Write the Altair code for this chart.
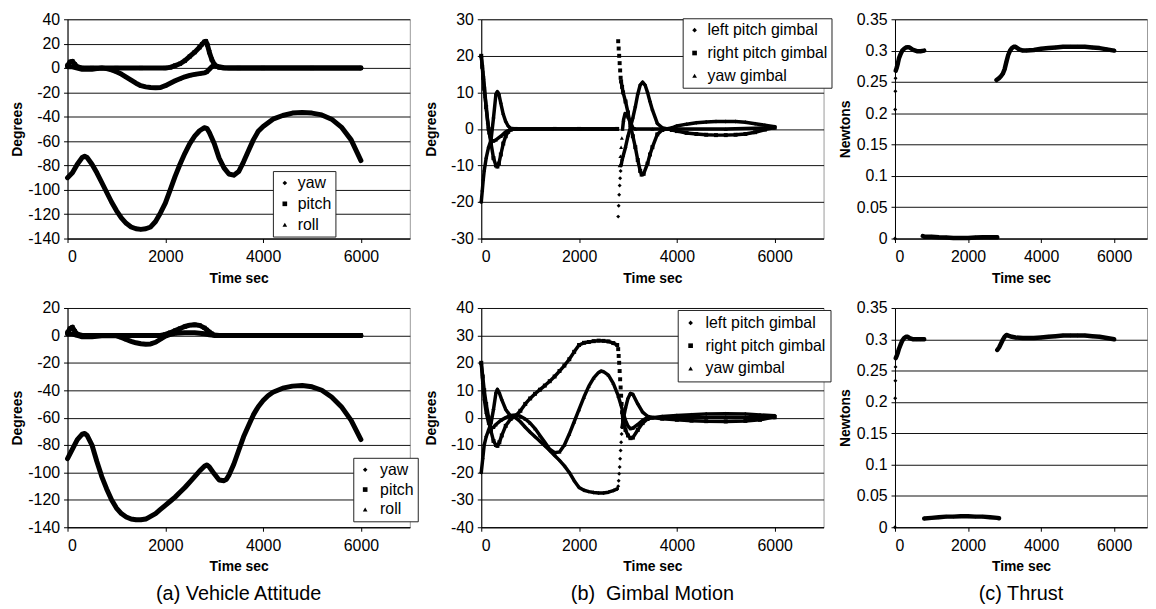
import altair as alt
import pandas as pd

# ---------------- tick values / labels ----------------
X_TICKS = [0, 2000, 4000, 6000]
A1_Y_TICKS = [-140, -120, -100, -80, -60, -40, -20, 0, 20, 40]
A2_Y_TICKS = [-140, -120, -100, -80, -60, -40, -20, 0, 20]
B1_Y_TICKS = [-30, -20, -10, 0, 10, 20, 30]
B2_Y_TICKS = [-40, -30, -20, -10, 0, 10, 20, 30, 40]
C_Y_TICKS = [0, 0.05, 0.1, 0.15, 0.2, 0.25, 0.3, 0.35]

ATT_SERIES = ["yaw", "pitch", "roll"]
GIM_SERIES = ["left pitch gimbal", "right pitch gimbal", "yaw gimbal"]
THR_SERIES = ["thrust"]
SHAPES = ["diamond", "square", "triangle-up"]

CAPTIONS = ["(a) Vehicle Attitude", "(b)\u00a0 Gimbal Motion", "(c) Thrust"]

# ---------------- (a) vehicle attitude, top ----------------
A1_YAW_T = [0, 100, 200, 300, 350, 400, 500, 600, 700, 800, 900, 1000, 1100, 1200, 1300, 1400, 1500,
            1600, 1700, 1800, 1900, 2000, 2100, 2200, 2300, 2400, 2500, 2600, 2700, 2800, 2850, 2900,
            3000, 3100, 3200, 3300, 3400, 3500, 3600, 3700, 3800, 3900, 4000, 4200, 4400, 4600, 4800,
            5000, 5200, 5400, 5600, 5800, 6000]
A1_YAW_V = [-90, -86, -79, -73.5, -72.5, -73.5, -79, -86, -94, -102, -110, -117, -123, -127.5, -130.5,
            -132, -132.5, -132, -130.5, -126, -119, -111, -100, -89, -79, -70, -62, -56, -51.5, -49,
            -49.5, -53, -62, -74, -82, -87, -88, -85, -77, -68, -59, -52, -48, -42, -39, -37, -36.5,
            -37, -38.5, -42, -48.5, -59, -76]
A1_PITCH_T = [0, 50, 100, 150, 200, 300, 500, 1000, 1500, 2000, 2100, 2200, 2300, 2400, 2500, 2600,
              2700, 2750, 2800, 2830, 2860, 2900, 2950, 3000, 3050, 3100, 3200, 3500, 4000, 5000, 6000]
A1_PITCH_V = [2, 5, 5.5, 3, 1, 0, 0, 0, 0, 0, 0.5, 2, 3.5, 6, 9.5, 13, 17, 19.5, 21.5, 22, 19, 13, 7,
              3, 1.5, 0.5, 0, 0, 0, 0, 0]
A1_ROLL_T = [0, 100, 200, 300, 400, 500, 600, 700, 800, 900, 1000, 1100, 1200, 1300, 1400, 1500, 1600,
             1700, 1800, 1900, 2000, 2100, 2200, 2300, 2400, 2500, 2600, 2700, 2800, 2850, 2900, 2950,
             3000, 3100, 3200, 3300, 4000, 5000, 6000]
A1_ROLL_V = [1, 1, 0, -1, -1, -1, -0.5, 0, -0.5, -1.5, -3, -5, -7.5, -10, -12.5, -14.5, -15.5, -16,
             -16.2, -16, -14.5, -12.5, -10.5, -8.8, -7.2, -6, -5.2, -4.6, -4, -3, -1, 1, 2, 1, 0.3, 0,
             0, 0, 0]

# ---------------- (a) vehicle attitude, bottom ----------------
A2_YAW_T = [0, 100, 200, 300, 350, 400, 500, 600, 700, 800, 900, 1000, 1100, 1200, 1300, 1400, 1500,
            1600, 1700, 1800, 1900, 2000, 2100, 2200, 2300, 2400, 2500, 2600, 2700, 2800, 2850, 2900,
            3000, 3100, 3200, 3250, 3300, 3400, 3500, 3600, 3700, 3800, 3900, 4000, 4100, 4200, 4400,
            4600, 4800, 5000, 5200, 5400, 5600, 5800, 6000]
A2_YAW_V = [-90, -83, -76, -72, -71.5, -73, -80, -92, -103, -112, -120, -126, -130, -132.5, -134,
            -134.5, -134.5, -134, -132, -130, -127, -124, -121, -118, -114.5, -111, -107, -103, -99,
            -95.5, -94.5, -96, -101, -105.5, -106, -105, -102, -94, -84, -74, -66, -58, -52, -47.5,
            -44, -41.5, -38.5, -37, -36.5, -37.5, -40, -45, -52, -62, -76]
A2_PITCH_T = [0, 50, 100, 150, 200, 300, 500, 1000, 1500, 1900, 2000, 2100, 2200, 2300, 2400, 2500,
              2600, 2700, 2800, 2850, 2900, 2950, 3000, 3100, 4000, 5000, 6000]
A2_PITCH_V = [2, 5, 6, 3, 1, 0, 0, 0, 0, 0, 0.8, 2, 3.5, 5, 6.5, 7.5, 7.8, 7.3, 5.5, 4, 2.5, 1.2, 0.3,
              0, 0, 0, 0]
A2_ROLL_T = [0, 100, 200, 300, 500, 700, 900, 1000, 1100, 1200, 1300, 1400, 1500, 1600, 1700, 1800,
             1900, 2000, 2100, 2200, 2400, 2600, 2800, 2900, 3000, 4000, 5000, 6000]
A2_ROLL_V = [1, 1, 0, -1, -1, -0.3, 0, -0.3, -1.5, -3, -4.3, -5.4, -6.1, -6.4, -6.2, -5, -2.8, -0.5,
             0.8, 1.5, 2, 2, 1.2, 0.5, 0, 0, 0, 0]

# ---------------- (b) gimbal motion, top ----------------
B1_LEFT_T = [0, 20, 40, 60, 100, 150, 200, 250, 300, 330, 360, 400, 450, 500, 550, 600, 700, 1500,
             2000, 2780]
B1_LEFT_V = [-20, -17, -14, -11.5, -8, -5, -3, 3, 9.5, 10.2, 9.5, 7, 4, 2, 0.8, 0.2, 0, 0, 0, 0]
B1_LEFT_DOT_T = [2800, 2810, 2820, 2830, 2840, 2850]
B1_LEFT_DOT_V = [-24, -21, -18, -15.5, -13.5, -11.5]
B1_LEFT2_T = [2860, 2880, 2900, 2950, 3000, 3050, 3100, 3150, 3200, 3250, 3300, 3350, 3400, 3450, 3500,
              3600, 3700, 3800, 3900, 4000, 4200, 4400, 4600, 4800, 5000, 5200, 5400, 5600, 5800, 6000]
B1_LEFT2_V = [-10, -8.5, -7.5, -5, -2, 0.5, 3, 6, 9.5, 12, 12.8, 12, 10, 7.5, 5.2, 1.5, 0.3, 0, 0.3,
              0.8, 1.3, 1.7, 1.9, 2, 2, 2, 1.8, 1.4, 1, 0.6]
B1_RIGHT_T = [0, 20, 40, 60, 100, 150, 200, 250, 300, 330, 360, 400, 450, 500, 550, 600, 700, 1500,
              2000, 2780]
B1_RIGHT_V = [20, 17, 14, 11, 6, 0, -4, -8, -10, -10.3, -9.5, -7, -4, -2, -0.8, -0.2, 0, 0, 0, 0]
B1_RIGHT_DOT_T = [2800, 2810, 2820, 2830, 2840, 2850]
B1_RIGHT_DOT_V = [24, 22, 20, 18, 16, 14]
B1_RIGHT2_T = [2860, 2880, 2900, 2950, 3000, 3050, 3100, 3150, 3200, 3250, 3280, 3320, 3400, 3450,
               3500, 3600, 3700, 3800, 3900, 4000, 4200, 4400, 4600, 4800, 5000, 5200, 5400, 5600,
               5800, 6000]
B1_RIGHT2_V = [13, 11.5, 10, 7.5, 4.5, 1, -2, -5, -8.5, -11.5, -12.5, -12.3, -9.5, -7, -5, -1.5,
               -0.3, 0, -0.3, -0.6, -1.1, -1.4, -1.6, -1.7, -1.7, -1.6, -1.4, -0.9, -0.2, 0.4]
B1_YAW_T = [0, 15, 30, 45, 60, 80, 100, 130, 160, 200, 250, 300, 400, 500, 600, 700, 1500, 2000, 2780]
B1_YAW_V = [20, 18, 16, 14, 12, 9, 6, 2, -1, -3, -3.3, -3, -2, -0.8, -0.2, 0, 0, 0, 0]
B1_YAW_DOT_T = [2830, 2845, 2860, 2875]
B1_YAW_DOT_V = [-10, -7.5, -5, -2.5]
B1_YAW2_T = [2890, 2910, 2940, 2970, 3000, 3050, 3100, 3150, 3500, 4000, 5000, 6000]
B1_YAW2_V = [0, 2.5, 4.2, 4, 3.3, 1.8, 0.3, 0, 0, 0, 0, 0.3]

# ---------------- (b) gimbal motion, bottom ----------------
B2_LEFT_T = [0, 30, 60, 100, 150, 200, 250, 300, 330, 370, 420, 500, 600, 700, 800, 900, 1000, 1100,
             1200, 1300, 1400, 1500, 1600, 1700, 1800, 1900, 2000, 2100, 2200, 2300, 2400, 2500, 2600,
             2700, 2780]
B2_LEFT_V = [-20, -15, -10, -7, -4.5, -2, 3, 9, 10.3, 9, 6.5, 3, 0.5, 0, -1.5, -3.5, -5.3, -7, -8.6,
             -10.3, -12, -13.8, -15.6, -17.6, -20, -23, -25.5, -26.5, -27, -27.3, -27.5, -27.5, -27.2,
             -26.6, -26]
B2_LEFT_DOT_T = [2800, 2810, 2820, 2830, 2840, 2850, 2860, 2870]
B2_LEFT_DOT_V = [-25, -23, -20.5, -18, -15, -12, -9, -6]
B2_LEFT2_T = [2880, 2900, 2950, 3000, 3050, 3100, 3200, 3300, 3400, 3500, 3700, 4000, 4300, 4600, 5000,
              5400, 5700, 6000]
B2_LEFT2_V = [-3.5, -1, 3.5, 7, 8.8, 8.5, 5, 2, 0.5, 0, 0.4, 0.8, 1.1, 1.3, 1.4, 1.3, 1, 0.7]
B2_RIGHT_T = [0, 30, 60, 100, 150, 200, 250, 300, 330, 370, 420, 500, 600, 700, 800, 900, 1000, 1100,
              1200, 1300, 1400, 1500, 1600, 1700, 1800, 1900, 2000, 2100, 2200, 2300, 2400, 2500, 2600,
              2700, 2780]
B2_RIGHT_V = [20, 15, 10, 5, 0, -5, -8.5, -10, -10.3, -9, -6.5, -3, -0.5, 0.5, 2.5, 5, 7, 8.7, 10.2,
              11.7, 13.3, 15, 17, 19, 21.3, 24, 26.5, 27.3, 27.6, 27.9, 28.1, 28, 27.8, 27.2, 26.5]
B2_RIGHT_DOT_T = [2800, 2810, 2820, 2830, 2840, 2850, 2860, 2870]
B2_RIGHT_DOT_V = [25, 22.5, 20, 17, 14, 11, 8, 5]
B2_RIGHT2_T = [2880, 2900, 2950, 3000, 3050, 3100, 3200, 3300, 3400, 3500, 3700, 4000, 4300, 4600,
               5000, 5400, 5700, 6000]
B2_RIGHT2_V = [2, -1, -4.5, -6.5, -7.5, -7.3, -4.5, -2, -0.5, 0, -0.4, -0.8, -1.1, -1.3, -1.4, -1.2,
               -0.8, 0.3]
B2_YAW_T = [0, 30, 60, 100, 150, 200, 250, 300, 400, 500, 600, 700, 800, 900, 1000, 1100, 1200, 1300,
            1400, 1500, 1600, 1700, 1800, 1900, 2000, 2100, 2200, 2300, 2400, 2450, 2500, 2600, 2700,
            2800, 2900, 2950, 3000, 3050, 3100, 3200, 3300, 3400, 4000, 5000, 6000]
B2_YAW_V = [20, 13, 7, 2, -2, -4, -3.5, -2.5, -1, 0, 0.8, 1, 0.5, -0.5, -2, -4, -6.5, -9, -11.5, -12.8,
            -12.5, -10, -6, -1.5, 3, 7.5, 11.5, 14.5, 16.5, 17, 16.8, 15.5, 12.5, 8, 2, -1, -3, -4,
            -3.8, -2.5, -1, 0, 0, 0, 0]

# ---------------- (c) thrust, top ----------------
C1_DOT_T = [0, 5, 10, 15]
C1_DOT_V = [0, 0.206, 0.235, 0.256]
C1_SEG1_T = [20, 50, 80, 110, 150, 200, 250, 300, 350, 400, 450, 500, 600, 700, 800]
C1_SEG1_V = [0.268, 0.273, 0.28, 0.288, 0.294, 0.3, 0.303, 0.305, 0.3055, 0.305, 0.303, 0.301, 0.299,
             0.299, 0.3]
C1_SEG2_T = [760, 800, 1000, 1200, 1400, 1600, 1800, 2000, 2200, 2400, 2600, 2800]
C1_SEG2_V = [0.004, 0.003, 0.003, 0.002, 0.0015, 0.001, 0.001, 0.001, 0.0015, 0.002, 0.002, 0.002]
C1_SEG3_T = [2780, 2850, 2900, 2950, 3000, 3050, 3100, 3150, 3200, 3250, 3300, 3350, 3400, 3500, 3600,
             3800, 4000, 4200, 4400, 4600, 4800, 5000, 5200, 5400, 5600, 5800, 6000]
C1_SEG3_V = [0.253, 0.256, 0.259, 0.263, 0.27, 0.282, 0.293, 0.3, 0.304, 0.306, 0.306, 0.304, 0.302,
             0.3, 0.3, 0.301, 0.303, 0.304, 0.305, 0.306, 0.306, 0.306, 0.306, 0.305, 0.304, 0.302, 0.3]

# ---------------- (c) thrust, bottom ----------------
C2_DOT_T = [0, 5, 10, 15]
C2_DOT_V = [0, 0.206, 0.234, 0.256]
C2_SEG1_T = [20, 50, 80, 110, 150, 200, 250, 300, 350, 400, 500, 600, 700, 800]
C2_SEG1_V = [0.27, 0.274, 0.279, 0.285, 0.291, 0.298, 0.302, 0.304, 0.304, 0.302, 0.3, 0.3, 0.3, 0.3]
C2_SEG2_T = [800, 1000, 1200, 1400, 1600, 1800, 2000, 2200, 2400, 2600, 2800, 2850]
C2_SEG2_V = [0.014, 0.015, 0.016, 0.017, 0.017, 0.0175, 0.0175, 0.017, 0.017, 0.016, 0.015, 0.0145]
C2_SEG3_T = [2800, 2850, 2900, 2950, 3000, 3050, 3100, 3200, 3300, 3500, 3800, 4000, 4200, 4400, 4600,
             4800, 5000, 5200, 5400, 5600, 5800, 6000]
C2_SEG3_V = [0.283, 0.287, 0.293, 0.299, 0.304, 0.307, 0.306, 0.304, 0.303, 0.302, 0.302, 0.303, 0.304,
             0.305, 0.306, 0.306, 0.306, 0.306, 0.305, 0.304, 0.302, 0.3]

FONT = "Liberation Sans"
MINUS = "\u2212"


def build(parts):
    rows = []
    for name, seg, kind, ts, vs in parts:
        assert len(ts) == len(vs), (name, seg, len(ts), len(vs))
        for t, v in zip(ts, vs):
            rows.append({"t": t, "v": v, "s": name, "seg": seg, "kind": kind})
    return pd.DataFrame(rows)


def leg(x, y, pad, rowpad, loff):
    return alt.Legend(title=None, orient="none", legendX=x, legendY=y, padding=pad,
                      rowPadding=rowpad, labelOffset=loff, labelFontSize=16, labelFont=FONT,
                      labelColor="black", strokeColor="#222", fillColor="white",
                      symbolSize=22, symbolFillColor="black", symbolStrokeColor="black",
                      symbolStrokeWidth=0, cornerRadius=0)


def panel(df, names, ydom, yticks, ytitle, yfmt, xmax, width, height, lw, psize, legend,
          caption=None):
    x = alt.X("t:Q", scale=alt.Scale(domain=[0, xmax], nice=False, zero=False),
              axis=alt.Axis(values=X_TICKS, format="d", title="Time sec", grid=False))
    y = alt.Y("v:Q", scale=alt.Scale(domain=ydom, nice=False, zero=False),
              axis=alt.Axis(values=yticks, format=yfmt, title=ytitle, grid=True,
                            labelExpr="replace(datum.label, '" + MINUS + "', '-')"))
    base = alt.Chart(df)
    lines = base.transform_filter(alt.datum.kind == "line").mark_line(
        color="black", strokeWidth=lw, strokeJoin="round", strokeCap="round"
    ).encode(x=x, y=y, detail="seg:N", order="t:Q")
    pts = base.mark_point(filled=True, color="black", opacity=1, size=psize, strokeWidth=0).encode(
        x=x, y=y,
        shape=alt.Shape("s:N", scale=alt.Scale(domain=names, range=SHAPES[:len(names)]),
                        legend=legend))
    props = dict(width=width, height=height)
    if caption:
        props["title"] = alt.TitleParams(caption, orient="bottom", anchor="middle", frame="group",
                                         fontSize=20, fontWeight="normal", font=FONT,
                                         color="black", offset=10)
    return alt.layer(lines, pts).properties(**props)


a1 = build([
    ("yaw", "y", "line", A1_YAW_T, A1_YAW_V),
    ("pitch", "p", "line", A1_PITCH_T, A1_PITCH_V),
    ("roll", "r", "line", A1_ROLL_T, A1_ROLL_V),
])
a2 = build([
    ("yaw", "y", "line", A2_YAW_T, A2_YAW_V),
    ("pitch", "p", "line", A2_PITCH_T, A2_PITCH_V),
    ("roll", "r", "line", A2_ROLL_T, A2_ROLL_V),
])
b1 = build([
    ("left pitch gimbal", "l1", "line", B1_LEFT_T, B1_LEFT_V),
    ("left pitch gimbal", "ld", "dots", B1_LEFT_DOT_T, B1_LEFT_DOT_V),
    ("left pitch gimbal", "l2", "line", B1_LEFT2_T, B1_LEFT2_V),
    ("right pitch gimbal", "r1", "line", B1_RIGHT_T, B1_RIGHT_V),
    ("right pitch gimbal", "rd", "dots", B1_RIGHT_DOT_T, B1_RIGHT_DOT_V),
    ("right pitch gimbal", "r2", "line", B1_RIGHT2_T, B1_RIGHT2_V),
    ("yaw gimbal", "y1", "line", B1_YAW_T, B1_YAW_V),
    ("yaw gimbal", "yd", "dots", B1_YAW_DOT_T, B1_YAW_DOT_V),
    ("yaw gimbal", "y2", "line", B1_YAW2_T, B1_YAW2_V),
])
b2 = build([
    ("left pitch gimbal", "l1", "line", B2_LEFT_T, B2_LEFT_V),
    ("left pitch gimbal", "ld", "dots", B2_LEFT_DOT_T, B2_LEFT_DOT_V),
    ("left pitch gimbal", "l2", "line", B2_LEFT2_T, B2_LEFT2_V),
    ("right pitch gimbal", "r1", "line", B2_RIGHT_T, B2_RIGHT_V),
    ("right pitch gimbal", "rd", "dots", B2_RIGHT_DOT_T, B2_RIGHT_DOT_V),
    ("right pitch gimbal", "r2", "line", B2_RIGHT2_T, B2_RIGHT2_V),
    ("yaw gimbal", "y1", "line", B2_YAW_T, B2_YAW_V),
])
c1 = build([
    ("thrust", "d", "dots", C1_DOT_T, C1_DOT_V),
    ("thrust", "s1", "line", C1_SEG1_T, C1_SEG1_V),
    ("thrust", "s2", "line", C1_SEG2_T, C1_SEG2_V),
    ("thrust", "s3", "line", C1_SEG3_T, C1_SEG3_V),
])
c2 = build([
    ("thrust", "d", "dots", C2_DOT_T, C2_DOT_V),
    ("thrust", "s1", "line", C2_SEG1_T, C2_SEG1_V),
    ("thrust", "s2", "line", C2_SEG2_T, C2_SEG2_V),
    ("thrust", "s3", "line", C2_SEG3_T, C2_SEG3_V),
])

W12, W3, H = 345, 254, 221

pa1 = panel(a1, ATT_SERIES, [-140, 40], A1_Y_TICKS, "Degrees", "d", 7000, W12, H, 5, 18,
            leg(207, 153, 4, 5, 5))
pb1 = panel(b1, GIM_SERIES, [-30, 30], B1_Y_TICKS, "Degrees", "d", 7000, W12, H, 3.5, 16,
            leg(203, -1, 4, 7, 5))
pc1 = panel(c1, THR_SERIES, [0, 0.35], C_Y_TICKS, "Newtons", "~f", 6900, W3, H, 4.5, 16, None)
pa2 = panel(a2, ATT_SERIES, [-140, 20], A2_Y_TICKS, "Degrees", "d", 7000, W12, H, 5, 18,
            leg(288, 151, 4, 4, 7), CAPTIONS[0])
pb2 = panel(b2, GIM_SERIES, [-40, 40], B2_Y_TICKS, "Degrees", "d", 7000, W12, H, 3.5, 16,
            leg(198, 2, 5, 7, 7), CAPTIONS[1])
pc2 = panel(c2, THR_SERIES, [0, 0.35], C_Y_TICKS, "Newtons", "~f", 6900, W3, H, 4.5, 16, None,
            CAPTIONS[2])

chart = alt.concat(pa1, pb1, pc1, pa2, pb2, pc2, columns=3,
                   spacing={"row": 70, "column": 72}, bounds="flush")
chart = chart.resolve_scale(shape="independent").resolve_legend(shape="independent")
chart = chart.properties(padding={"left": 2, "top": 0, "right": 0, "bottom": 0})
chart = (
    chart.configure(font=FONT)
    .configure_view(stroke="#9a9a9a", strokeWidth=1)
    .configure_axis(labelFont=FONT, labelFontSize=16, labelColor="black", titleFont=FONT,
                    titleFontSize=14, titleFontWeight="bold", titleColor="black",
                    domainColor="black", domainWidth=1, tickColor="black", tickSize=4,
                    tickWidth=1, gridColor="#111", gridWidth=1)
    .configure_axisX(labelPadding=6, titlePadding=7)
    .configure_axisY(labelPadding=4, titlePadding=3, minExtent=40, maxExtent=40)
)

chart.save("out.html", embed_options={"renderer": "svg", "actions": False})
